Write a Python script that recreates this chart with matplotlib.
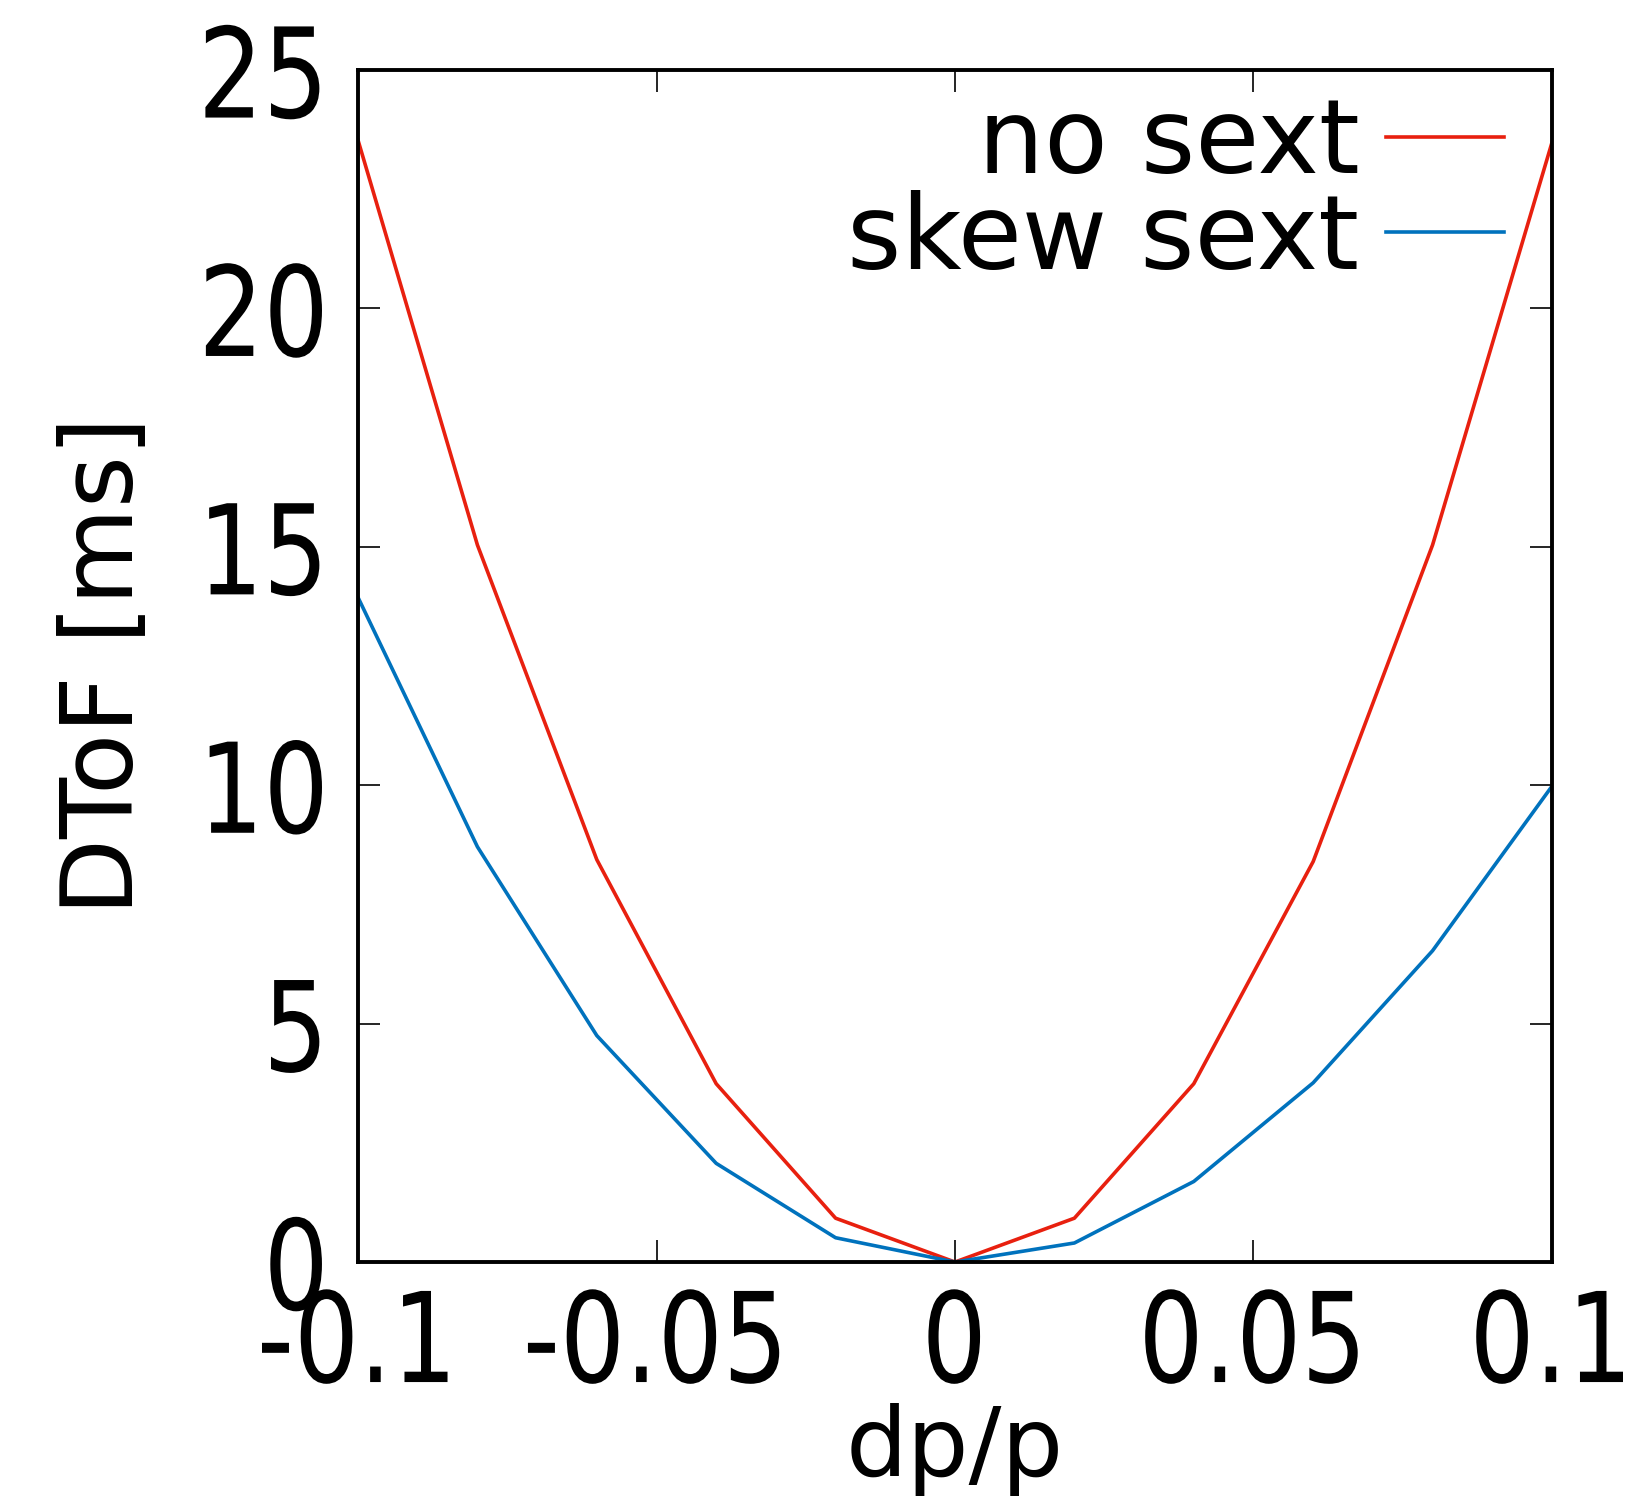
import numpy as np
import matplotlib
matplotlib.use("Agg")
import matplotlib.pyplot as plt
from matplotlib import patheffects
from matplotlib.transforms import Affine2D

# data
dpp = [-0.1, -0.08, -0.06, -0.04, -0.02, 0.0, 0.02, 0.04, 0.06, 0.08, 0.1]
dtof_no_sext = [23.53, 15.04, 8.44, 3.74, 0.92, 0.0, 0.92, 3.74, 8.40, 15.04, 23.48]
dtof_skew_sext = [13.94, 8.71, 4.75, 2.07, 0.51, 0.0, 0.40, 1.69, 3.76, 6.53, 9.98]

x_ticks = [-0.1, -0.05, 0, 0.05, 0.1]
x_ticklabels = ["-0.1", "-0.05", "0", "0.05", "0.1"]
y_ticks = [0, 5, 10, 15, 20, 25]


# squeeze glyphs horizontally (gnuplot's font is a narrow one)
class Squeeze(patheffects.AbstractPathEffect):
    def __init__(self, sx, anchor='center'):
        super().__init__()
        self.sx = sx
        self.anchor = anchor

    def draw_path(self, renderer, gc, tpath, affine, rgbFace=None):
        xs = tpath.vertices[:, 0]
        x0, x1 = xs.min(), xs.max()
        cx = {'left': x0, 'center': (x0 + x1) / 2, 'right': x1}[self.anchor]
        t = Affine2D().translate(-cx, 0).scale(self.sx, 1).translate(cx, 0) + affine
        renderer.draw_path(gc, tpath, t, rgbFace)


plt.rcParams['font.family'] = ['DejaVu Sans']

fig = plt.figure(figsize=(16.43, 15.10), dpi=100)
ax = fig.add_axes([0.2179, 0.1642, 0.7267, 0.7894])

ax.plot(dpp, dtof_no_sext, color='#e8200f', lw=2.6, label='no sext')
ax.plot(dpp, dtof_skew_sext, color='#0072bd', lw=2.6, label='skew sext')

ax.set_xlim(-0.1, 0.1)
ax.set_ylim(0, 25)
ax.set_xticks(x_ticks)
ax.set_xticklabels(x_ticklabels)
ax.set_yticks(y_ticks)

ax.tick_params(direction='in', length=16, width=1.2, top=True, right=True,
               labelsize=90)
ax.tick_params(axis='x', pad=18)
ax.tick_params(axis='y', pad=20)
for lab in ax.get_xticklabels():
    lab.set_path_effects([Squeeze(0.82, 'center')])
for lab in ax.get_yticklabels():
    lab.set_path_effects([Squeeze(0.82, 'right')])
for s in ax.spines.values():
    s.set_linewidth(2.8)

ax.set_xlabel('dp/p', fontsize=70)
ax.xaxis.set_label_coords(0.5, -0.118)
ax.set_ylabel('DToF [ms]', fontsize=72)
ax.yaxis.set_label_coords(-0.171, 0.5)

ax.legend(loc='upper right', bbox_to_anchor=(1.0, 1.02), frameon=False,
          markerfirst=False, fontsize=75, handlelength=1.13, handletextpad=0.26,
          labelspacing=-0.05, borderaxespad=0.06)

fig.savefig('out.png', dpi=100)
